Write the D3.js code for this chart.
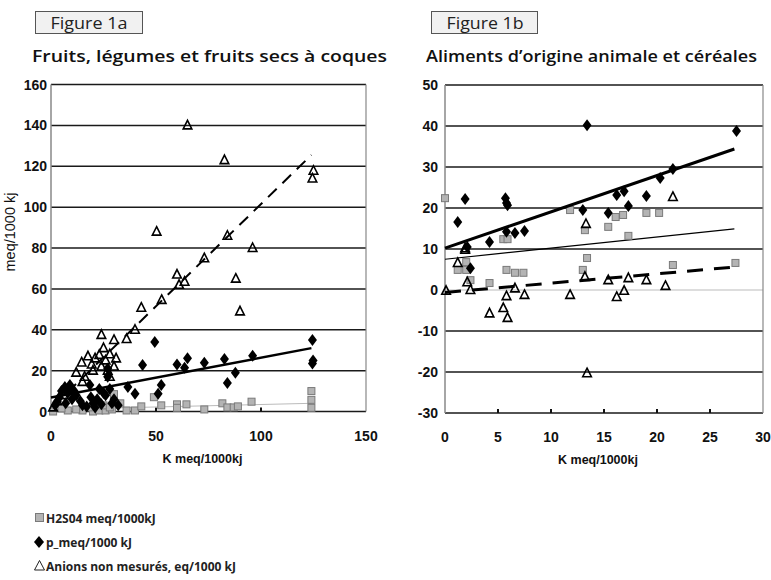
<!DOCTYPE html>
<html lang="fr">
<head>
  <meta charset="UTF-8" />
  <title>Figure 1a / 1b</title>
  <script src="https://d3js.org/d3.v7.min.js"></script>
  <style>
    body { margin: 0; background: #fff; }
    svg { display: block; }
    .hum { font-family: "Open Sans", "Noto Sans", sans-serif; }
    .ax { font-family: "Liberation Sans", Arial, sans-serif; font-weight: bold; }
  </style>
</head>
<body>
  <svg width="771" height="580" id="chart"></svg>

  <script>
    const svg = d3.select("#chart");

    // ---- Figure 1a : fruits, légumes et fruits secs à coques ----
    const aSquares = [
      [1, 0], [8, 0.5], [15, 0.5], [20, 0], [23, 0.5], [26, 0.5], [30, 8.5], [29, 1],
      [36, 0.5], [40, 0.5], [43, 2.5], [49, 7], [52.5, 3], [60, 3.5], [60, 1.8], [64.5, 3.5],
      [73, 1], [81.6, 4], [84, 2], [87, 2], [89, 2.5], [95.5, 4.8], [124, 10], [124, 5.7], [124, 1.8],
      [5, 1.5], [12, 1], [18, 2], [25, 3], [28, 2], [33, 4]
    ];
    const aDiamonds = [
      [49.4, 34], [43.6, 22.8], [40, 8.7], [52.5, 13], [51, 8.7], [60, 23], [63.6, 21.4], [65, 26],
      [73, 23.8], [82.6, 25.7], [84, 14], [87.8, 19], [96, 27.3], [124.5, 35], [124.8, 25], [124.5, 23.5],
      [27, 21], [27, 17], [18.5, 13], [36.6, 12], [6.6, 12], [5, 10], [8, 9], [4, 7], [3, 5], [2, 3],
      [10, 6], [12, 8], [7, 4], [15, 3], [20, 4], [22, 6], [24, 3.5], [26, 8], [28, 11], [30, 6],
      [17, 2.5], [21, 2], [25, 9], [29, 4], [32, 3], [9, 13], [11, 10], [14, 5], [19, 7], [23, 11]
    ];
    const aTriangles = [
      [65, 140], [50.3, 88], [82.6, 123], [125, 117.8], [124.5, 114], [73, 75], [84, 86], [96, 80],
      [60, 67], [63.6, 63.5], [61, 62], [88, 65], [90, 49], [52.7, 54.6], [43, 50.8], [40, 40],
      [36, 35.5], [30, 35], [24, 37.5], [17.6, 27], [14.6, 24], [19.4, 23], [23, 27.7], [26, 25],
      [28, 28], [30, 22], [31, 26], [27, 20], [15, 14.5], [1, 2], [21, 26], [24, 22], [12, 19],
      [20, 20], [25, 31], [9, 10], [6, 8], [3, 5], [16, 17], [28, 17]
    ];
    // droites de tendance [x0, y0, x1, y1]
    const aFitH2SO4 = [0, 1, 124, 4];
    const aFitP = [0, 6.8, 124, 31];
    const aFitAnions = [1, 2.5, 124, 125.5];
    const aYTicks = [0, 20, 40, 60, 80, 100, 120, 140, 160];
    const aXTicks = [0, 50, 100, 150];

    // ---- Figure 1b : aliments d'origine animale et céréales ----
    const bSquares = [
      [0, 22.4], [5.5, 12.4], [5.9, 12.4], [11.8, 19.5], [13.2, 14.6], [13.4, 7.8], [13, 4.9],
      [1.2, 4.9], [2, 6.8], [2, 4.9], [2.4, 2.4], [4.2, 1.7], [5.8, 4.9], [6.6, 4.2], [7.4, 4.2],
      [15.4, 15.4], [16.1, 17.8], [16.8, 18.3], [19, 18.8], [20.2, 18.8], [17.3, 13.2],
      [21.5, 6.1], [27.4, 6.6]
    ];
    const bDiamonds = [
      [13.4, 40.2], [27.5, 38.8], [1.9, 22.2], [1.2, 16.6], [5.7, 22.4], [5.8, 21.2], [5.9, 20.7],
      [4.2, 11.7], [6.6, 13.9], [7.5, 14.4], [5.8, 14.2], [2.1, 10.5], [13, 19.5], [15.4, 18.8],
      [16.2, 23.2], [16.9, 24.1], [17.3, 20.5], [19, 22.9], [20.3, 27.3], [21.5, 29.5], [2.4, 5.3]
    ];
    const bTriangles = [
      [13.4, -20.3], [1.9, 10.2], [1.2, 6.6], [1.9, 9.8], [2.1, 1.9], [2.4, 0], [0.1, -0.2],
      [4.2, -5.7], [5.8, -1.5], [5.5, -4.4], [5.9, -6.8], [6.6, 0.4], [7.5, -1.2], [11.8, -1.2],
      [13.2, 3.2], [13.3, 16.1], [15.4, 2.4], [16.2, -1.7], [16.9, -0.2], [17.3, 2.9], [19, 2.4],
      [20.8, 1], [21.5, 22.7]
    ];
    const bFitH2SO4 = [0, 7.5, 27.3, 14.9];
    const bFitP = [0, 10.2, 27.3, 34.4];
    const bFitAnions = [0, -0.6, 27.3, 5.6];
    const bYTicks = [-30, -20, -10, 0, 10, 20, 30, 40, 50];
    const bXTicks = [0, 5, 10, 15, 20, 25, 30];

    const legendLabels = ["H2S04 meq/1000kJ", "p_meq/1000 kJ", "Anions non mesurés, eq/1000 kJ"];

    const sqFill = "#b4b4b4", sqStroke = "#7a7a7a";

    function drawPanel(cfg) {
      const x = d3.scaleLinear().domain(cfg.xDomain).range([cfg.left, cfg.right]);
      const y = d3.scaleLinear().domain(cfg.yDomain).range([cfg.bottom, cfg.top]);
      const g = svg.append("g");

      // label box
      g.append("rect").attr("x", cfg.boxX).attr("y", 11.5).attr("width", cfg.boxW).attr("height", 22)
        .attr("fill", "#f1f1f1").attr("stroke", "#555").attr("stroke-width", 1);
      g.append("text").attr("class", "hum").attr("x", cfg.boxX + 15).attr("y", 28.5)
        .attr("font-size", 16.5).attr("fill", "#222")
        .attr("textLength", 77).attr("lengthAdjust", "spacingAndGlyphs").text(cfg.fig);
      g.append("text").attr("class", "hum").attr("x", cfg.titleX).attr("y", 62)
        .attr("font-size", 17).attr("font-weight", 600).attr("fill", "#111")
        .attr("textLength", cfg.titleW).attr("lengthAdjust", "spacingAndGlyphs").text(cfg.title);

      // gridlines
      g.selectAll(".grid").data(cfg.yTicks).enter().append("line")
        .attr("x1", cfg.left).attr("x2", cfg.right)
        .attr("y1", d => y(d)).attr("y2", d => y(d))
        .attr("stroke", d => d === 0 && cfg.yDomain[0] < 0 ? "#bbb" : "#1a1a1a")
        .attr("stroke-width", d => d === 0 && cfg.yDomain[0] < 0 ? 1 : 1.5);

      // frame (left & right)
      g.append("line").attr("x1", cfg.left).attr("x2", cfg.left).attr("y1", cfg.top).attr("y2", cfg.bottom)
        .attr("stroke", "#888").attr("stroke-width", 1.5);
      g.append("line").attr("x1", cfg.right).attr("x2", cfg.right).attr("y1", cfg.top).attr("y2", cfg.bottom)
        .attr("stroke", "#888").attr("stroke-width", 1.2);

      // x ticks (small upward marks)
      g.selectAll(".xt").data(cfg.xTicks.slice(1, -1)).enter().append("line")
        .attr("x1", d => x(d)).attr("x2", d => x(d)).attr("y1", cfg.bottom).attr("y2", cfg.bottom - 4)
        .attr("stroke", "#111").attr("stroke-width", 2);

      // tick labels
      g.selectAll(".yl").data(cfg.yTicks).enter().append("text").attr("class", "ax")
        .attr("x", cfg.left - cfg.yLabGap).attr("y", d => y(d) + 5).attr("text-anchor", "end")
        .attr("font-size", 14).attr("fill", "#111").text(d => d);
      g.selectAll(".xl").data(cfg.xTicks).enter().append("text").attr("class", "ax")
        .attr("x", d => x(d)).attr("y", cfg.bottom + 29).attr("text-anchor", "middle")
        .attr("font-size", 14).attr("fill", "#111").text(d => d);
      g.append("text").attr("class", "ax").attr("x", (cfg.left + cfg.right) / 2 - 6).attr("y", cfg.bottom + 51)
        .attr("text-anchor", "middle").attr("font-size", 12.5).attr("fill", "#111").text("K meq/1000kj");

      // trend lines
      const fit = (f, stroke, w, dash) => g.append("line")
        .attr("x1", x(f[0])).attr("y1", y(f[1])).attr("x2", x(f[2])).attr("y2", y(f[3]))
        .attr("stroke", stroke).attr("stroke-width", w).attr("stroke-dasharray", dash || null);
      fit(cfg.fitH2SO4, cfg.h2Color, cfg.h2Width);

      // squares
      g.selectAll(".sq").data(cfg.squares).enter().append("rect")
        .attr("x", d => x(d[0]) - 3.5).attr("y", d => y(d[1]) - 3.5).attr("width", 7).attr("height", 7)
        .attr("fill", sqFill).attr("stroke", sqStroke).attr("stroke-width", 1);
      // diamonds
      g.selectAll(".dm").data(cfg.diamonds).enter().append("path")
        .attr("d", d => `M${x(d[0])},${y(d[1]) - 6}l4.5,6l-4.5,6l-4.5,-6z`)
        .attr("fill", "#000");
      // triangles
      g.selectAll(".tr").data(cfg.triangles).enter().append("path")
        .attr("d", d => `M${x(d[0])},${y(d[1]) - 5}l4.3,8.5h-8.6z`)
        .attr("fill", "none").attr("stroke", "#000").attr("stroke-width", 1.6);

      fit(cfg.fitP, "#000", cfg.pWidth);
      fit(cfg.fitAnions, "#000", cfg.anWidth, cfg.dash);
    }

    drawPanel({
      fig: "Figure 1a", boxX: 35.5, boxW: 107, title: "Fruits, légumes et fruits secs à coques",
      titleX: 32, titleW: 355,
      left: 51, right: 366, top: 84.5, bottom: 411.5, yLabGap: 4,
      xDomain: [0, 150], yDomain: [0, 160], xTicks: aXTicks, yTicks: aYTicks,
      squares: aSquares, diamonds: aDiamonds, triangles: aTriangles,
      fitH2SO4: aFitH2SO4, fitP: aFitP, fitAnions: aFitAnions,
      h2Color: "#bbb", h2Width: 1, pWidth: 2.5, anWidth: 2, dash: "12,8"
    });
    drawPanel({
      fig: "Figure 1b", boxX: 431.5, boxW: 106, title: "Aliments d\u2019origine animale et céréales",
      titleX: 426, titleW: 331,
      left: 445, right: 763, top: 85, bottom: 413, yLabGap: 7,
      xDomain: [0, 30], yDomain: [-30, 50], xTicks: bXTicks, yTicks: bYTicks,
      squares: bSquares, diamonds: bDiamonds, triangles: bTriangles,
      fitH2SO4: bFitH2SO4, fitP: bFitP, fitAnions: bFitAnions,
      h2Color: "#000", h2Width: 1.2, pWidth: 3, anWidth: 3, dash: "16,11"
    });

    // y-axis title (left panel)
    svg.append("text").attr("font-family", "Liberation Sans, Arial, sans-serif").attr("font-size", 14.5)
      .attr("text-anchor", "middle").attr("transform", "translate(15,232) rotate(-90)")
      .attr("fill", "#111").text("meq/1000 kj");

    // legend
    const lg = svg.append("g").attr("class", "hum");
    const legendY = d3.scalePoint().domain(legendLabels).range([523, 571]);
    legendLabels.forEach((t, i) => {
      const cy = legendY(t);
      if (i === 0) {
        lg.append("rect").attr("x", 35.5).attr("y", cy - 9.5).attr("width", 8).attr("height", 8)
          .attr("fill", sqFill).attr("stroke", sqStroke);
      } else if (i === 1) {
        lg.append("path").attr("d", `M39,${cy - 11}l5,6l-5,6l-5,-6z`).attr("fill", "#000");
      } else {
        lg.append("path").attr("d", `M39.5,${cy - 10.5}l5,9.5h-10z`).attr("fill", "none")
          .attr("stroke", "#222").attr("stroke-width", 1);
      }
      lg.append("text").attr("x", 46).attr("y", cy).attr("font-size", 12).attr("font-weight", 700)
        .attr("fill", "#222").text(t);
    });
  </script>
</body>
</html>
